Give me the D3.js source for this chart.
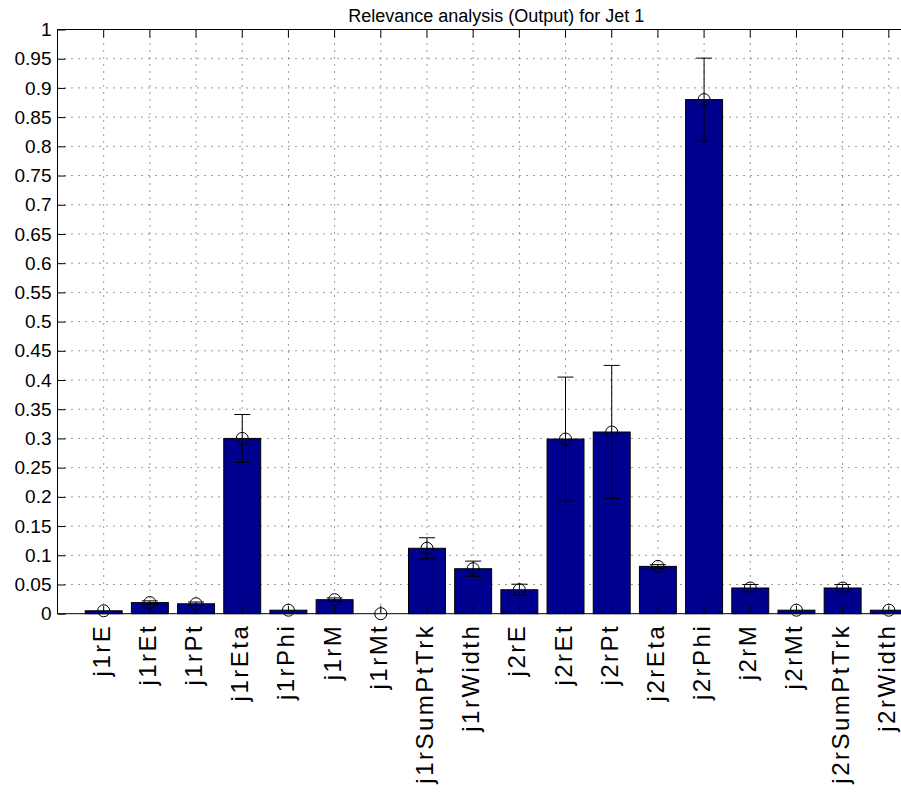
<!doctype html>
<html>
<head>
  <meta charset="utf-8">
  <title>Relevance analysis (Output) for Jet 1</title>
  <style>
    body { margin: 0; background: #fff; }
    svg { font-family: 'Liberation Sans', Arial, sans-serif; }
    .grid line { stroke: #333; stroke-width: 1; stroke-dasharray: 1,6; }
  </style>
</head>
<body>
  <div id="chart"></div>
  <script src="https://cdnjs.cloudflare.com/ajax/libs/d3/7.8.5/d3.min.js"></script>
  <script>
    // data
    var names = ["j1rE", "j1rEt", "j1rPt", "j1rEta", "j1rPhi", "j1rM", "j1rMt", "j1rSumPtTrk", "j1rWidth",
      "j2rE", "j2rEt", "j2rPt", "j2rEta", "j2rPhi", "j2rM", "j2rMt", "j2rSumPtTrk", "j2rWidth"];
    var means = [0.005, 0.019, 0.017, 0.300, 0.006, 0.024, 0.000, 0.112, 0.077,
      0.041, 0.299, 0.311, 0.081, 0.880, 0.044, 0.006, 0.044, 0.006];
    var errs = [0.001, 0.003, 0.003, 0.041, 0.001, 0.003, 0.000, 0.018, 0.013,
      0.0095, 0.106, 0.114, 0.003, 0.071, 0.006, 0.001, 0.006, 0.001];
    var yTicks = d3.range(0, 1.0001, 0.05);

    var width = 901, height = 793;
    var margin = { top: 29.5, left: 57.5, right: -34, bottom: 179.3 };
    var innerW = width - margin.left - margin.right;
    var innerH = height - margin.top - margin.bottom;

    var rows = names.map((n, i) => ({ name: n, mean: means[i], err: errs[i] }));

    var x = d3.scaleBand().domain(names).range([0, innerW]).paddingInner(0.2).paddingOuter(0.6);
    var y = d3.scaleLinear().domain([0, 1]).range([innerH, 0]);
    var cx = d => x(d) + x.bandwidth() / 2;

    var svg = d3.select("#chart").append("svg").attr("width", width).attr("height", height);

    svg.append("text")
      .attr("x", margin.left + innerW / 2)
      .attr("y", 22)
      .attr("text-anchor", "middle")
      .attr("font-size", 18)
      .text("Relevance analysis (Output) for Jet 1");

    var g = svg.append("g").attr("transform", `translate(${margin.left},${margin.top})`);

    // dotted grid
    var grid = g.append("g").attr("class", "grid");
    grid.selectAll(".h").data(yTicks.slice(1, -1)).join("line")
      .attr("x1", 0).attr("x2", innerW)
      .attr("y1", d => y(d)).attr("y2", d => y(d));
    grid.selectAll(".v").data(names).join("line")
      .attr("x1", d => cx(d)).attr("x2", d => cx(d))
      .attr("y1", 0).attr("y2", innerH);

    // bars
    g.append("g").selectAll("rect").data(rows).join("rect")
      .attr("x", d => x(d.name))
      .attr("width", x.bandwidth())
      .attr("y", d => y(d.mean))
      .attr("height", d => innerH - y(d.mean))
      .attr("fill", "#00008f")
      .attr("stroke", "#000")
      .attr("stroke-width", 1);

    // error bars
    var eb = g.append("g").attr("stroke", "#000").attr("stroke-width", 1).attr("fill", "none");
    var withErr = rows.filter(d => d.err > 0.002);
    eb.selectAll(".stem").data(withErr).join("line")
      .attr("x1", d => cx(d.name)).attr("x2", d => cx(d.name))
      .attr("y1", d => y(d.mean + d.err)).attr("y2", d => y(d.mean - d.err));
    eb.selectAll(".capT").data(withErr).join("line")
      .attr("x1", d => cx(d.name) - 8).attr("x2", d => cx(d.name) + 8)
      .attr("y1", d => y(d.mean + d.err)).attr("y2", d => y(d.mean + d.err));
    eb.selectAll(".capB").data(withErr).join("line")
      .attr("x1", d => cx(d.name) - 8).attr("x2", d => cx(d.name) + 8)
      .attr("y1", d => y(d.mean - d.err)).attr("y2", d => y(d.mean - d.err));
    eb.selectAll("circle").data(rows).join("circle")
      .attr("cx", d => cx(d.name)).attr("cy", d => y(d.mean)).attr("r", 6);

    // axes box
    var yAxis = g.append("g")
      .call(d3.axisLeft(y).tickValues(yTicks).tickSize(-8).tickPadding(6).tickFormat(d3.format("~g")));
    yAxis.selectAll("text").attr("font-size", 19).attr("fill", "#000").attr("font-family", "'Liberation Sans', Arial, sans-serif");
    yAxis.selectAll("line, path").attr("stroke", "#000");
    yAxis.select(".domain").attr("d", `M0,0V${innerH}`);

    var xAxis = g.append("g").attr("transform", `translate(0,${innerH})`)
      .call(d3.axisBottom(x).tickSize(-8).tickPadding(10));
    xAxis.select(".domain").attr("d", `M0,0H${innerW}`).attr("stroke", "#000");
    xAxis.selectAll(".tick line").attr("stroke", "#000");
    xAxis.selectAll("text")
      .attr("font-size", 24)
      .attr("letter-spacing", 2.5)
      .attr("fill", "#000")
      .attr("font-family", "'Liberation Sans', Arial, sans-serif")
      .attr("text-anchor", "end")
      .attr("transform", "rotate(-90)")
      .attr("x", -10).attr("y", 0).attr("dy", "0.25em");

    var topAxis = g.append("g").call(d3.axisTop(x).tickSize(-8).tickFormat(""));
    topAxis.select(".domain").attr("d", `M0,0H${innerW}`).attr("stroke", "#000");
    topAxis.selectAll(".tick line").attr("stroke", "#000");
  </script>
</body>
</html>
